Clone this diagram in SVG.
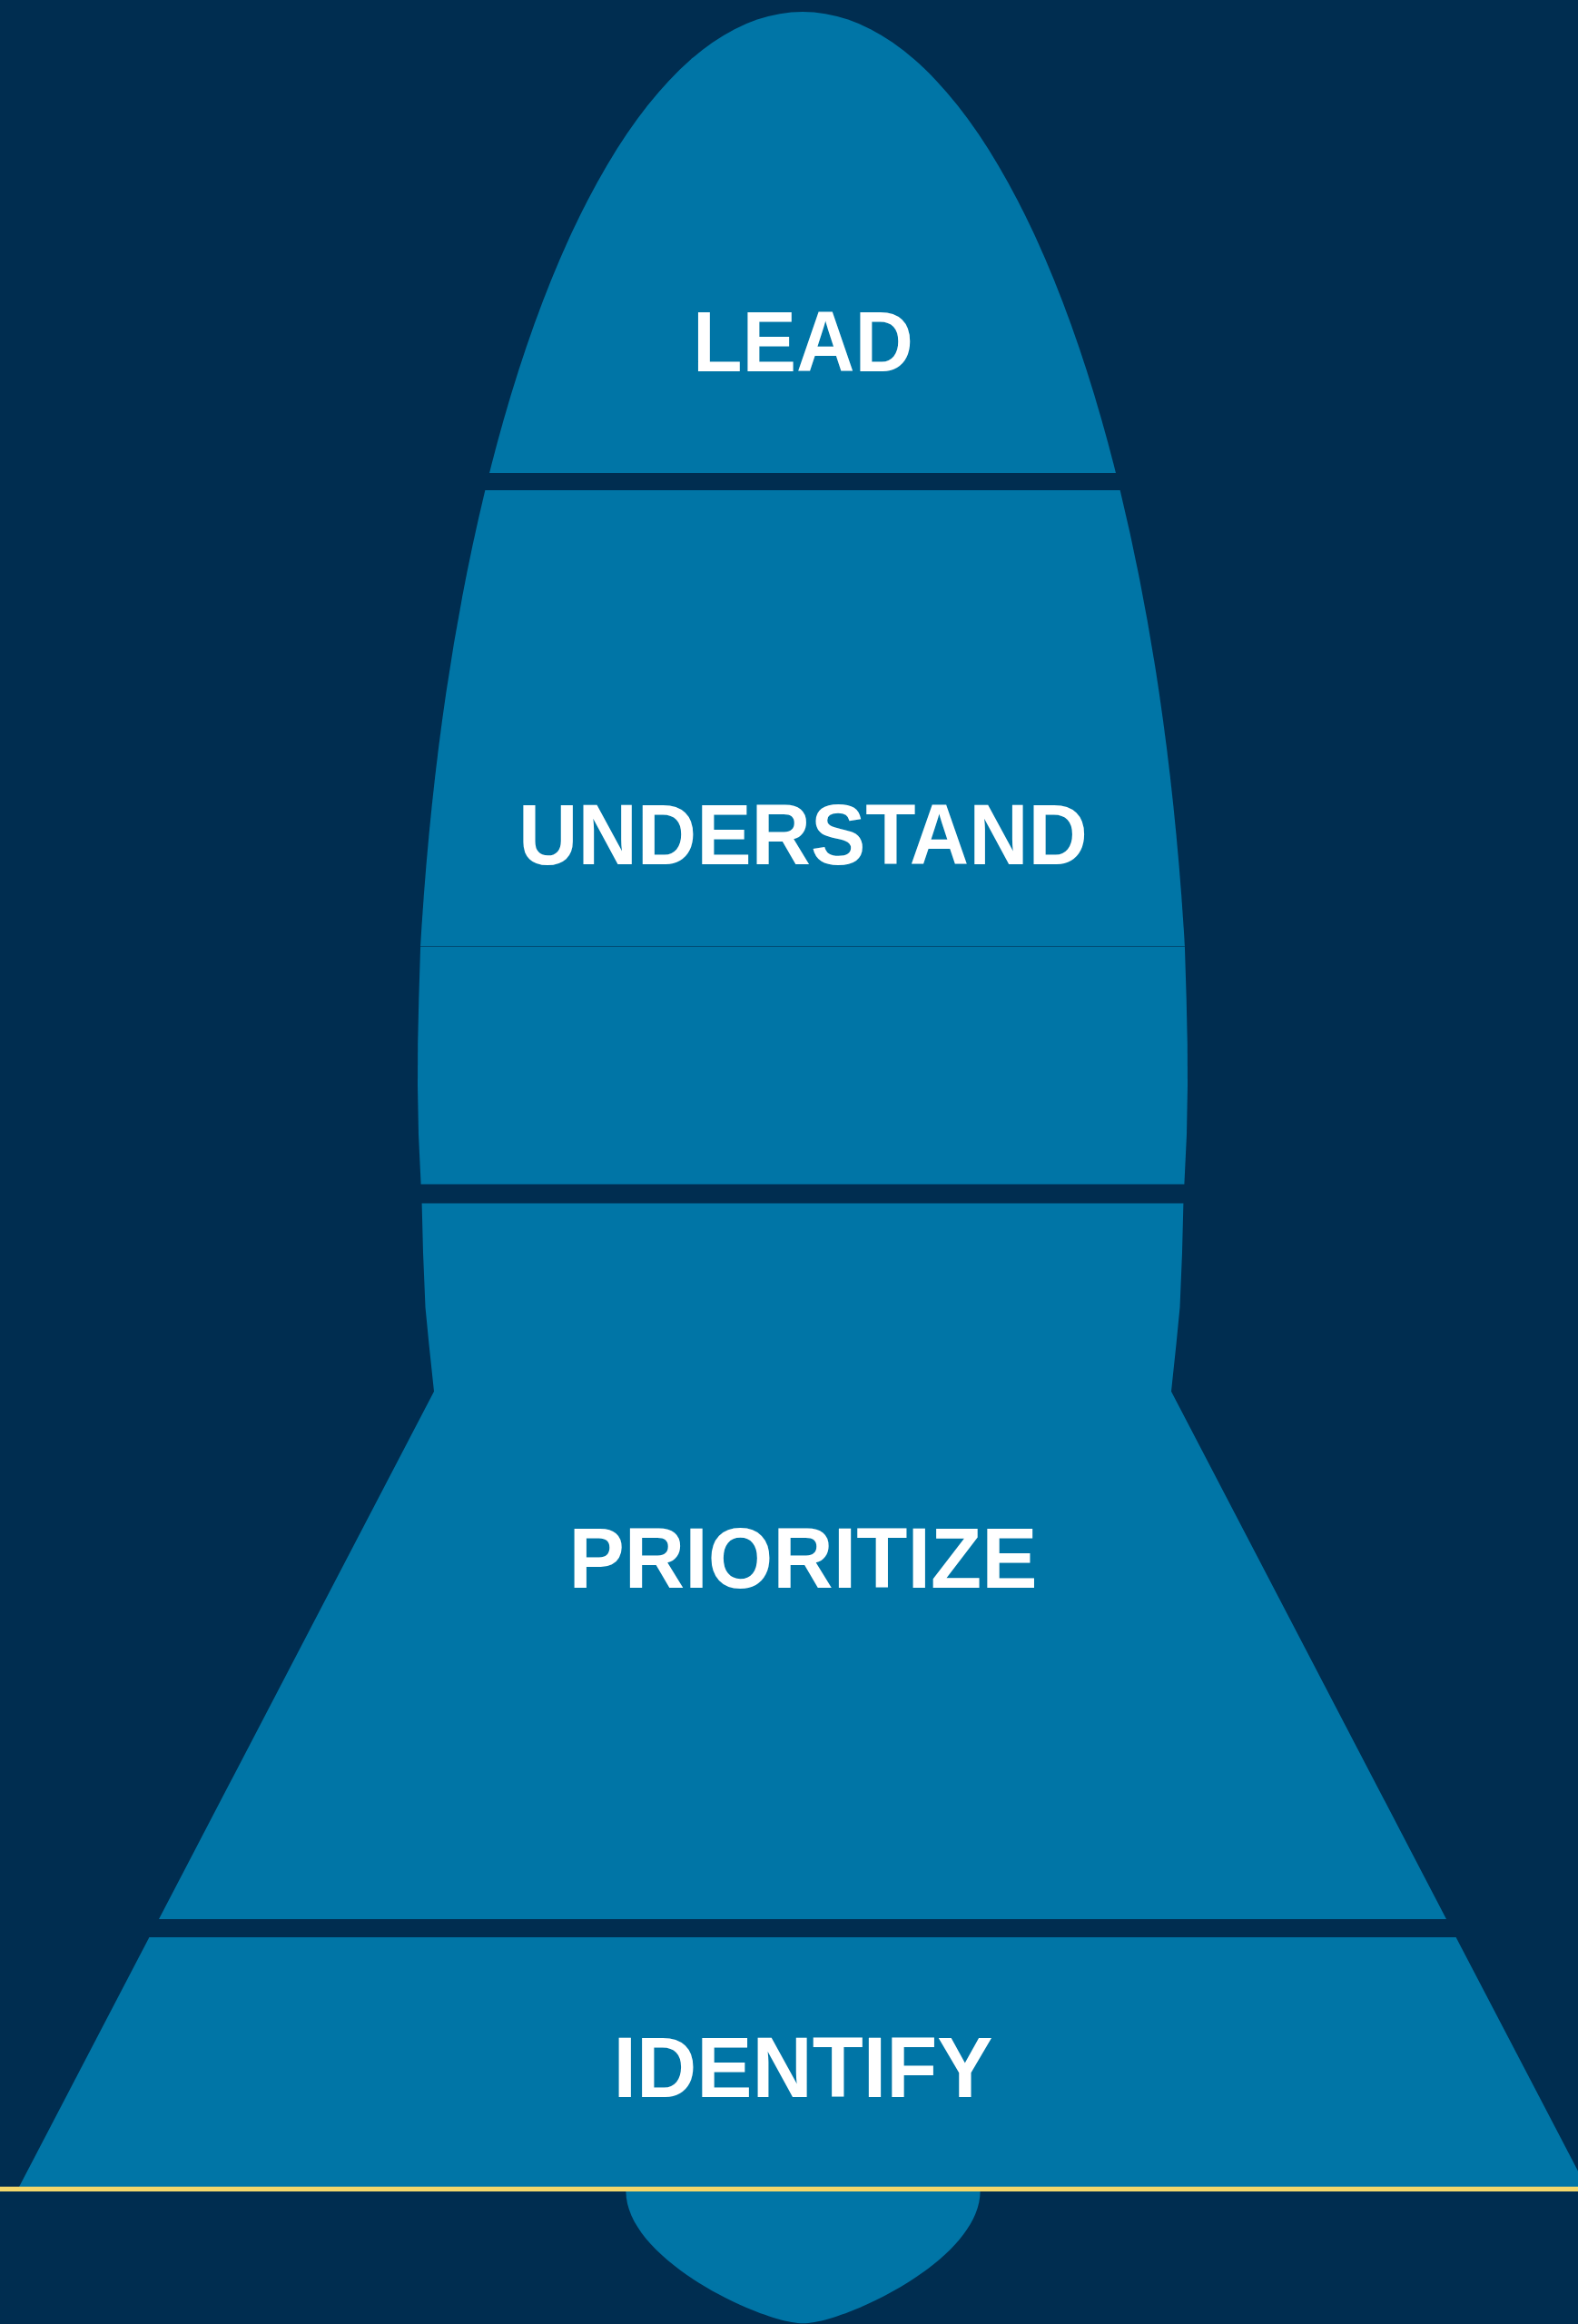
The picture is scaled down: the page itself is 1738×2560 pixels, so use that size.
<svg xmlns="http://www.w3.org/2000/svg" width="1738" height="2560" viewBox="0 0 1738 2560">
  <style>
    .bg { fill: #002D50; }
    .stage { fill: #0075A6; }
    .seam { stroke: #014A72; stroke-width: 1.2; fill: none; }
    .ground { fill: #F2D76B; }
    .label { font-family: "Liberation Sans", Arial, Helvetica, sans-serif; font-weight: 700; font-size: 94.5px; fill: #FFFFFF; text-anchor: middle; }
  </style>

  <rect class="bg" x="0" y="0" width="1738" height="2560"/>

  <!-- exhaust plume below the launch line -->
  <path id="plume" class="stage" d="M 689.4 2414 C 690 2490 840 2559.3 884.5 2559.3 C 929 2559.3 1079 2490 1079.6 2414 Z"/>

  <!-- nose cone -->
  <g id="lead">
    <path class="stage" d="M 539.03 521 A 427 1237 0 0 1 1228.97 521 Z"/>
    <text class="label" x="884.5" y="409" textLength="243" lengthAdjust="spacingAndGlyphs">LEAD</text>
  </g>

  <!-- upper body, with a hairline seam part way down -->
  <g id="understand">
    <path class="stage" d="M 534.34 540 A 427 1237 0 0 0 463.1 1042 L 461.3 1100 L 460.2 1150 L 460 1196 L 461 1250 L 463.6 1304.5 L 1304.4 1304.5 L 1307 1250 L 1308 1196 L 1307.8 1150 L 1306.7 1100 L 1304.9 1042 A 427 1237 0 0 0 1233.66 540 Z"/>
    <line class="seam" x1="463" y1="1042.5" x2="1305" y2="1042.5"/>
    <text class="label" x="884.5" y="952" textLength="627" lengthAdjust="spacingAndGlyphs">UNDERSTAND</text>
  </g>

  <!-- lower body flaring into the fins -->
  <g id="prioritize">
    <path class="stage" d="M 464.6 1325.5 L 466 1380 L 468.5 1440 L 472.4 1480 L 478 1532.7 L 175 2114 L 1593 2114 L 1290 1532.7 L 1295.6 1480 L 1299.5 1440 L 1302 1380 L 1303.4 1325.5 Z"/>
    <text class="label" x="884.5" y="1749" textLength="516" lengthAdjust="spacingAndGlyphs">PRIORITIZE</text>
  </g>

  <!-- base section -->
  <g id="identify">
    <path class="stage" d="M 164.4 2134 L 1603.6 2134 L 1738 2391.4 L 1738 2409 L 21 2409 Z"/>
    <text class="label" x="884.5" y="2310" textLength="418" lengthAdjust="spacingAndGlyphs">IDENTIFY</text>
  </g>

  <!-- launch line -->
  <rect id="ground-line" class="ground" x="0" y="2408.7" width="1738" height="5.3"/>

  <g id="connectors"/>
</svg>
